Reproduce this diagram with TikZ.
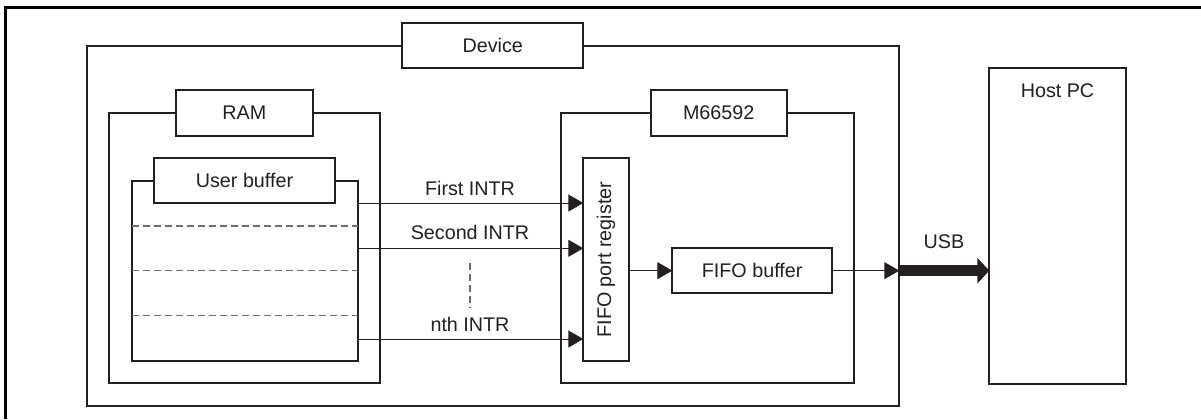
\documentclass[tikz,border=0pt]{standalone}
\usepackage{fontspec}
\setmainfont{Liberation Sans}
\usetikzlibrary{arrows.meta,fit}
\definecolor{ink}{RGB}{35,31,32}
\begin{document}
\begin{tikzpicture}[x=0.75pt,y=-0.75pt,
  font=\fontsize{14.8}{17}\selectfont, text=ink,
  box/.style={draw=ink,line width=1.4pt,inner sep=0pt,outer sep=0pt},
  lab/.style={box,fill=white},
  frameline/.style={draw=black,line width=1.9pt},
  sep/.style={draw=ink!65,line width=0.8pt,dash pattern=on 5.25pt off 3pt},
  flow/.style={draw=ink,line width=0.75pt,-{Triangle[length=11.25pt,width=12.75pt]}},
  usb/.style={draw=ink,line width=8.25pt,-{Triangle[length=9pt,width=18.75pt]}},
  txt/.style={inner sep=0pt}]
\useasboundingbox (0,0) rectangle (1201,419);
\draw[frameline] (5.7,419) -- (5.7,7.7) -- (1201,7.7);

% Device
\node[box,fit={(86.7,45.7) (899.3,406)}] (dev) {};
\node[lab,fit={(402.3,22.7) (583.3,68.3)}] (devl) {};
\node[txt] (devt) at (devl.center) {Device};

% RAM
\node[box,fit={(109.3,113.3) (380,383.3)}] (ram) {};
\node[lab,fit={(176,90) (312.7,135.7)}] (raml) {};
\node[txt] (ramt) at (raml.center) {RAM};

% User buffer
\node[box,fit={(131.7,181) (357.7,361)}] (ub) {};
\node[lab,fit={(154,158.3) (335,202.7)}] (ubl) {};
\node[txt] (ubt) at (ubl.center) {User buffer};
\draw[sep] (131.7,226) -- (357.7,226);
\draw[sep] (131.7,270.7) -- (357.7,270.7);
\draw[sep] (131.7,315.7) -- (357.7,315.7);

% M66592
\node[box,fit={(560.7,113.3) (854.3,383.3)}] (m66) {};
\node[lab,fit={(650.7,90) (786.7,136)}] (m66l) {};
\node[txt] (m66t) at (m66l.center) {M66592};
\node[box,fill=white,fit={(583.3,158.3) (628.7,361)}] (fpr) {};
\node[txt,rotate=90] (fprt) at (fpr.center) {FIFO port register};
\node[box,fit={(672.3,248.3) (832,293)}] (fifo) {};
\node[txt] (fifot) at (fifo.center) {FIFO buffer};

% Host PC
\node[box,fit={(989.3,68.3) (1125.7,383.7)}] (host) {};
\node[txt] (hostt) at (1057.5,91) {Host PC};

% interrupts
\coordinate (y1) at (0,203);
\coordinate (y2) at (0,248.3);
\coordinate (y3) at (0,339);
\draw[flow] (ub.east |- y1) -- (fpr.west |- y1);
\draw[flow] (ub.east |- y2) -- (fpr.west |- y2);
\draw[flow] (ub.east |- y3) -- (fpr.west |- y3);
\node[txt] (l1) at (470,188) {First INTR};
\node[txt] (l2) at (470,232.7) {Second INTR};
\node[txt] (l3) at (470,324.3) {nth INTR};
\draw[sep] (470,263) -- (470,308);

% data path
\draw[flow] (fpr.east |- fifo.west) -- (fifo.west);
\draw[flow] (fifo.east) -- (dev.east |- fifo.east);
\draw[usb] (dev.east |- fifo.east) -- (host.west |- fifo.east);
\node[txt] (usbt) at (944,242) {USB};
\end{tikzpicture}
\end{document}
